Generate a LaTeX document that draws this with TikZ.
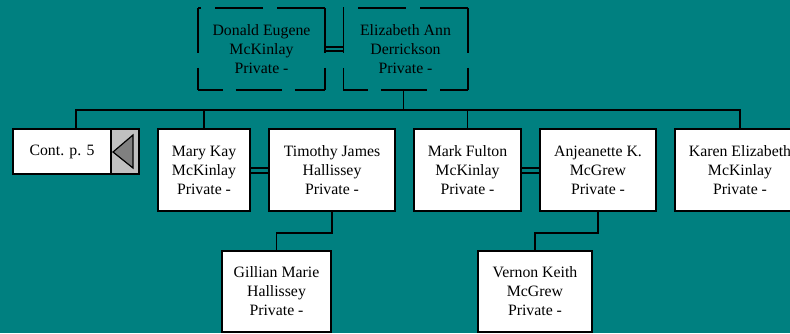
\documentclass[tikz,border=0pt]{standalone}
\usepackage{fontspec}
\setmainfont{Liberation Serif}
\definecolor{bg}{HTML}{008080}
\definecolor{panel}{HTML}{C0C0C0}
\definecolor{trigray}{HTML}{808080}
\begin{document}
\begin{tikzpicture}[x=1pt,y=-1pt,
  txt/.style={font=\fontsize{15.8}{19}\selectfont, align=center, text=black},
  person/.style={txt, draw=black, line width=1.8pt, fill=white, inner sep=0pt, minimum height=82pt},
  spouse/.style={txt, inner sep=0pt, minimum height=82pt},
  sidev/.style={draw=black, line width=1.6pt, dash pattern=on 45pt off 15pt},
  sidetop/.style={draw=black, line width=1.6pt, dash pattern=on 48pt off 14pt},
  sidebot/.style={draw=black, line width=1.6pt, dash pattern=on 46pt off 13pt, dash phase=21pt},
  link/.style={draw=black, line width=1.8pt},
  wed/.style={draw=black, line width=1.4pt}]
\fill[bg] (0,0) rectangle (790,333);
\useasboundingbox (0,0) rectangle (790,333);
\clip (0,0) rectangle (790,333);
\coordinate (bar) at (0,110);
% parents
\node[spouse, minimum width=127pt] (donald) at (261.5,49) {Donald Eugene\\McKinlay\\Private -};
\node[spouse, minimum width=124pt] (elizabeth) at (405.5,49) {Elizabeth Ann\\Derrickson\\Private -};
\foreach \p in {donald, elizabeth} {
  \draw[sidev] (\p.north west) -- (\p.south west);
  \draw[sidev] (\p.north east) -- (\p.south east);
  \draw[sidetop] (\p.north east) -- (\p.north west);
  \draw[sidebot] (\p.south west) -- (\p.south east);
}
% children
\node[person, minimum width=126pt, minimum height=45pt] (cont) at (76,151.5) {};
\node[txt, inner sep=0pt] (conttext) at (62,151.5) {Cont. p. 5};
\node[draw=black, line width=1.8pt, fill=panel, minimum width=28pt, minimum height=45pt, inner sep=0pt] (panel) at (125,151.5) {};
\filldraw[fill=trigray, draw=black, line width=1.2pt] (113,152) -- (133,135) -- (133,168) -- cycle;
\node[person, minimum width=92pt] (mary) at (204,170) {Mary Kay\\McKinlay\\Private -};
\node[person, minimum width=126pt] (timothy) at (332,170) {Timothy James\\Hallissey\\Private -};
\node[person, minimum width=107pt] (mark) at (467.5,170) {Mark Fulton\\McKinlay\\Private -};
\node[person, minimum width=116pt] (anjeanette) at (598,170) {Anjeanette K.\\McGrew\\Private -};
\node[person, minimum width=130pt] (karen) at (740,170) {Karen Elizabeth\\McKinlay\\Private -};
% grandchildren
\node[person, minimum width=109pt, minimum height=81pt] (gillian) at (276.5,291.5) {Gillian Marie\\Hallissey\\Private -};
\node[person, minimum width=114pt, minimum height=81pt] (vernon) at (535,291.5) {Vernon Keith\\McGrew\\Private -};
% marriages
\draw[wed] ([yshift=2pt]donald.east) -- ([yshift=2pt]elizabeth.west);
\draw[wed] ([yshift=-2pt]donald.east) -- ([yshift=-2pt]elizabeth.west);
\draw[wed] ([yshift=2pt]mary.east) -- ([yshift=2pt]timothy.west);
\draw[wed] ([yshift=-3pt]mary.east) -- ([yshift=-3pt]timothy.west);
\draw[wed] ([yshift=2pt]mark.east) -- ([yshift=2pt]anjeanette.west);
\draw[wed] ([yshift=-3pt]mark.east) -- ([yshift=-3pt]anjeanette.west);
% descent
\draw[link] ([xshift=-2pt]elizabeth.south) -- ([xshift=-2pt]elizabeth.south |- bar);
\draw[link] (cont.north) -- (cont.north |- bar) -| (karen.north);
\draw[link] (mary.north) -- (mary.north |- bar);
\draw[link] (mark.north) -- (mark.north |- bar);
\draw[link] (timothy.south) -- ++(0,21) -| (gillian.north);
\draw[link] (anjeanette.south) -- ++(0,21) -| (vernon.north);
\end{tikzpicture}
\end{document}
